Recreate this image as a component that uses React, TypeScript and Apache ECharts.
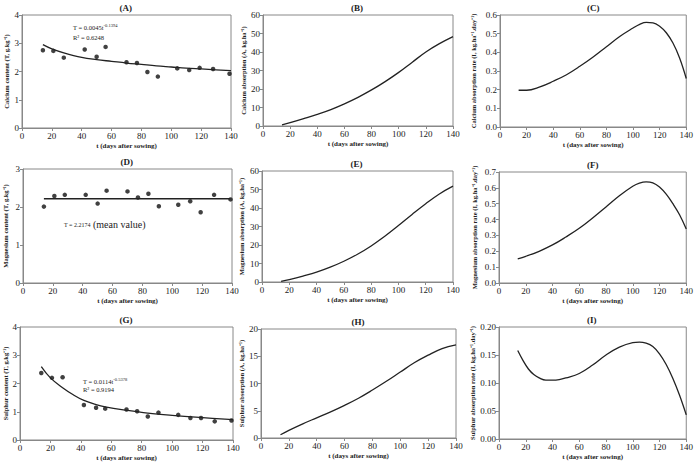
import React, { useEffect, useRef } from "react";
import * as echarts from "echarts";

// Sampling days (t, days after sowing)
const sampleDays = [14, 21, 28, 42, 50, 56, 70, 77, 84, 91, 104, 112, 119, 128, 139];
// Measured contents (g/kg)
const caContent = [2.75, 2.73, 2.49, 2.78, 2.52, 2.87, 2.33, 2.3, 1.98, 1.82, 2.11, 2.05, 2.13, 2.09, 1.92];
const mgContent = [2.01, 2.29, 2.32, 2.32, 2.09, 2.43, 2.41, 2.25, 2.35, 2.02, 2.06, 2.15, 1.86, 2.32, 2.2];
const sContent = [2.37, 2.2, 2.22, 1.24, 1.14, 1.11, 1.08, 1.02, 0.83, 0.97, 0.89, 0.78, 0.78, 0.66, 0.69];

// Fitted content curves
const caFitDays = [14, 20, 28, 40, 50, 60, 70, 80, 90, 100, 110, 120, 130, 140];
const caFit = [2.95, 2.8, 2.66, 2.5, 2.42, 2.36, 2.3, 2.25, 2.2, 2.16, 2.12, 2.09, 2.06, 2.03];
const mgMeanDays = [14, 139];
const mgMean = [2.2174, 2.2174];
const sFitDays = [14, 20, 28, 35, 42, 50, 56, 70, 84, 100, 120, 140];
const sFit = [2.6, 2.2, 1.85, 1.6, 1.4, 1.25, 1.17, 1.05, 0.95, 0.87, 0.79, 0.72];

// Absorption curves (kg/ha)
const absDays = [14, 20, 30, 40, 50, 60, 70, 80, 90, 100, 110, 120, 130, 140];
const caAbs = [0.6, 1.8, 4.0, 6.3, 8.9, 12.0, 15.5, 19.5, 24.0, 29.0, 34.5, 40.0, 44.5, 48.3];
const mgAbs = [0.3, 1.3, 3.2, 5.3, 8.0, 11.2, 15.0, 19.5, 24.7, 30.5, 36.5, 42.3, 47.6, 51.8];
const sAbs = [0.6, 1.4, 2.6, 3.7, 4.8, 6.0, 7.3, 8.8, 10.4, 12.1, 13.8, 15.2, 16.4, 17.1];

// Absorption rate curves (kg/ha/day)
const caRateDays = [14, 20, 30, 40, 50, 60, 70, 80, 90, 100, 105, 110, 115, 120, 125, 130, 135, 140];
const caRate = [0.197, 0.197, 0.215, 0.245, 0.28, 0.325, 0.375, 0.43, 0.485, 0.53, 0.55, 0.56, 0.558, 0.54, 0.505, 0.45, 0.37, 0.26];
const mgRateDays = [14, 20, 30, 40, 50, 60, 70, 80, 90, 100, 105, 110, 115, 120, 125, 130, 135, 140];
const mgRate = [0.152, 0.168, 0.2, 0.24, 0.29, 0.345, 0.41, 0.48, 0.55, 0.61, 0.63, 0.638, 0.632, 0.605, 0.56, 0.5, 0.43, 0.34];
const sRateDays = [14, 18, 22, 26, 30, 35, 40, 45, 50, 60, 70, 80, 90, 100, 105, 110, 115, 120, 125, 130, 135, 140];
const sRate = [0.158, 0.14, 0.125, 0.115, 0.109, 0.105, 0.105, 0.106, 0.109, 0.117, 0.132, 0.15, 0.164, 0.172, 0.173, 0.171, 0.165, 0.152, 0.133, 0.108, 0.078, 0.043];

const panelLabels = ["(A)", "(B)", "(C)", "(D)", "(E)", "(F)", "(G)", "(H)", "(I)"];
const yNames = [
  "Calcium content (T, g.kg\u207B\u00B9)",
  "Calcium absorption (A, kg.ha\u207B\u00B9)",
  "Calcium absorption rate (I, kg.ha\u207B\u00B9.day\u207B\u00B9)",
  "Magnesium content (T, g.kg\u207B\u00B9)",
  "Magnesium absorption (A, kg.ha\u207B\u00B9)",
  "Magnesium absorption rate (I, kg.ha\u207B\u00B9.day\u207B\u00B9)",
  "Sulphur content (T, g.kg\u207B\u00B9)",
  "Sulphur absorption (A, kg.ha\u207B\u00B9)",
  "Sulphur absorption rate (I, kg.ha\u207B\u00B9.day\u207B\u00B9)",
];
const xName = "t (days after sowing)";
const yMax = [4, 60, 0.6, 3, 60, 0.7, 4, 20, 0.2];
const yStep = [1, 10, 0.1, 1, 10, 0.1, 1, 5, 0.05];
const yDecimals = [0, 0, 1, 0, 0, 1, 0, 0, 2];

const FONT = "Liberation Serif";

export default function App() {
  const ref = useRef<HTMLDivElement>(null);
  useEffect(() => {
    if (!ref.current) return;
    const chart = echarts.init(ref.current, undefined, { renderer: "svg" });

    const grids = [
      { left: 22, top: 15, width: 209, height: 113 },
      { left: 263, top: 15, width: 190, height: 111 },
      { left: 500, top: 15, width: 188, height: 112 },
      { left: 23, top: 169, width: 209, height: 114 },
      { left: 262, top: 171, width: 191, height: 111 },
      { left: 499, top: 172, width: 190, height: 111 },
      { left: 20, top: 327, width: 213, height: 113 },
      { left: 261, top: 329, width: 195, height: 109 },
      { left: 499, top: 327, width: 190, height: 112 },
    ];
    const yGaps = [12, 16, 23, 14, 17, 21, 10, 16, 22];

    const axisLine = { show: true, lineStyle: { color: "#888", width: 1 } };
    const axisTick = { show: true, length: 3, lineStyle: { color: "#888" } };

    const xAxes = grids.map((_, i) => ({
      type: "value",
      gridIndex: i,
      min: 0,
      max: 140,
      interval: 20,
      axisLine,
      axisTick,
      splitLine: { show: false },
      axisLabel: { fontFamily: FONT, fontSize: 9, color: "#222", margin: 3 },
      name: xName,
      nameLocation: "middle",
      nameGap: 14,
      nameTextStyle: { fontFamily: FONT, fontSize: 7, fontWeight: "bold", color: "#222" },
    }));
    const yAxes = grids.map((_, i) => ({
      type: "value",
      gridIndex: i,
      min: 0,
      max: yMax[i],
      interval: yStep[i],
      axisLine,
      axisTick,
      splitLine: { show: false },
      axisLabel: {
        fontFamily: FONT,
        fontSize: 9,
        color: "#222",
        margin: 3,
        formatter: (v: number) => v.toFixed(yDecimals[i]),
      },
      name: yNames[i],
      nameLocation: "middle",
      nameGap: yGaps[i],
      nameTextStyle: { fontFamily: FONT, fontSize: 6.5, fontWeight: "bold", color: "#222" },
    }));

    const zip = (a: number[], b: number[]) => a.map((t, k) => [t, b[k]]);
    const lineSeries = (i: number, t: number[], v: number[]) => ({
      type: "line",
      xAxisIndex: i,
      yAxisIndex: i,
      data: zip(t, v),
      smooth: 0.4,
      showSymbol: false,
      lineStyle: { color: "#222", width: 1.3 },
    });
    const dotSeries = (i: number, v: number[]) => ({
      type: "scatter",
      xAxisIndex: i,
      yAxisIndex: i,
      data: zip(sampleDays, v),
      symbolSize: 4.5,
      itemStyle: { color: "#111" },
    });

    const eqStyle = (text: string) => ({
      text,
      rich: {
        m: { fontFamily: FONT, fontSize: 6.5, fill: "#222", color: "#222" },
        s: { fontFamily: FONT, fontSize: 4.5, color: "#222", verticalAlign: "top", padding: [0, 0, 4, 0] },
      },
    });

    chart.setOption({
      animation: false,
      backgroundColor: "#fff",
      title: grids.map((g, i) => ({
        text: panelLabels[i],
        left: g.left + g.width / 2 - 7,
        top: g.top - 12,
        textStyle: { fontFamily: FONT, fontSize: 9, fontWeight: "bold", color: "#222" },
        padding: 0,
      })),
      grid: grids.map((g) => ({ ...g, show: true, borderColor: "#888", borderWidth: 1 })),
      xAxis: xAxes,
      yAxis: yAxes,
      series: [
        dotSeries(0, caContent),
        lineSeries(0, caFitDays, caFit),
        lineSeries(1, absDays, caAbs),
        lineSeries(2, caRateDays, caRate),
        dotSeries(3, mgContent),
        lineSeries(3, mgMeanDays, mgMean),
        lineSeries(4, absDays, mgAbs),
        lineSeries(5, mgRateDays, mgRate),
        dotSeries(6, sContent),
        lineSeries(6, sFitDays, sFit),
        lineSeries(7, absDays, sAbs),
        lineSeries(8, sRateDays, sRate),
      ],
      graphic: [
        { type: "text", left: 73, top: 23, style: { ...eqStyle("{m|T = 0.0045t}{s|-0.1394}"), fill: "#222" } },
        { type: "text", left: 73, top: 34, style: { text: "R\u00B2 = 0.6248", fontFamily: FONT, fontSize: 6.5, fill: "#222" } },
        { type: "text", left: 64, top: 222, style: { text: "T = 2.2174", fontFamily: FONT, fontSize: 6, fill: "#222" } },
        { type: "text", left: 93, top: 219, style: { text: "(mean value)", fontFamily: FONT, fontSize: 10, fill: "#222" } },
        { type: "text", left: 83, top: 377, style: { ...eqStyle("{m|T = 0.0114t}{s|-0.5378}"), fill: "#222" } },
        { type: "text", left: 83, top: 386, style: { text: "R\u00B2 = 0.9194", fontFamily: FONT, fontSize: 6.5, fill: "#222" } },
      ],
    });
    return () => chart.dispose();
  }, []);
  return (
    <div
      ref={ref}
      style={{ position: "absolute", left: 0, top: 0, width: 696, height: 463, background: "#fff" }}
    />
  );
}
